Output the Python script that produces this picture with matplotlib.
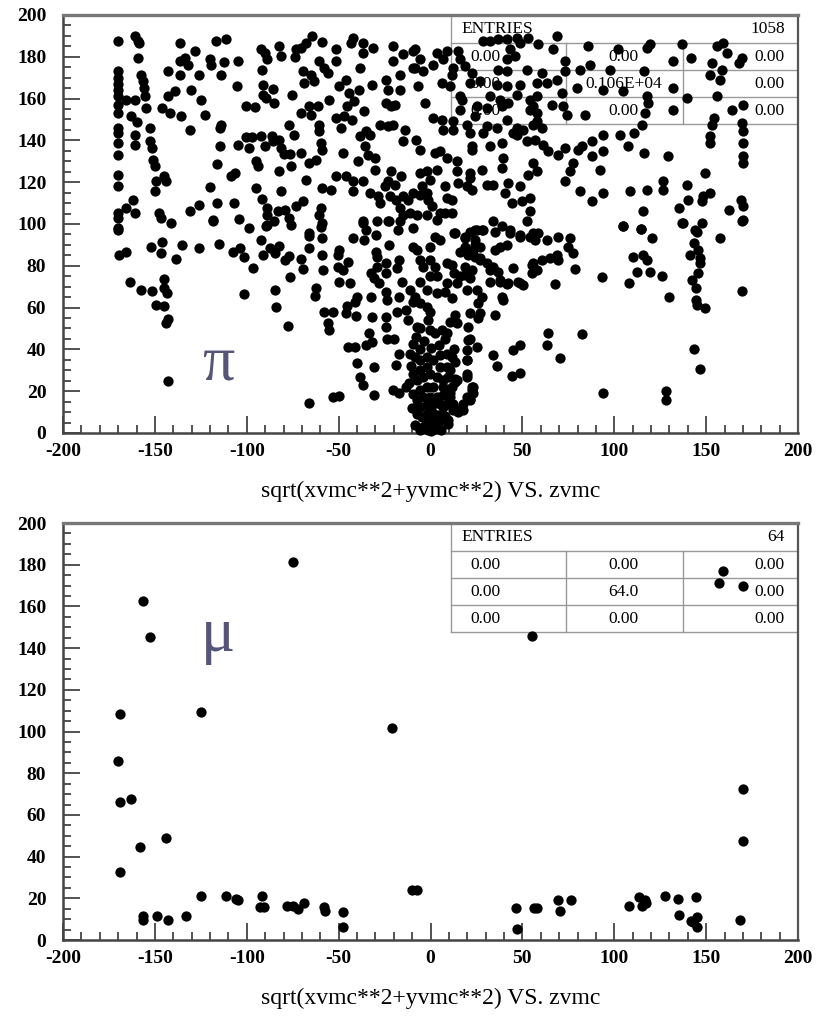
import matplotlib
matplotlib.use("Agg")
import matplotlib.pyplot as plt
import numpy as np


# pi sample: (zvmc, sqrt(xvmc**2+yvmc**2)), by region
pi_upper_left = [
    (-170, 187.5), (-170, 173), (-170, 170), (-170, 167), (-170, 164.3), (-170, 161), (-170, 157),
    (-170, 153), (-170, 146), (-170, 143.5), (-170, 138.7), (-170, 133), (-170, 123.6), (-170, 118.3),
    (-170, 105.2), (-170, 102.8), (-170, 97.2),
    (-161, 190), (-159.2, 187.5), (-158.5, 186.5), (-159.2, 179.5), (-165.5, 159.5), (-161, 159.5),
    (-162.8, 151.5), (-160, 149), (-161, 142.8), (-161, 138), (-162, 111.6), (-165.5, 107.6), (-161, 105.2),
    (-157.4, 171.5), (-156.5, 168.3), (-156, 165), (-155.6, 161), (-155, 155.5), (-152.8, 146),
    (-152.5, 139.6), (-151.4, 136.4), (-151, 130.8), (-150, 127.6), (-149.6, 120.4), (-150, 115.6),
    (-145, 122.8), (-144, 120.4), (-147.8, 105.2), (-146.7, 102.8), (-141, 100.4),
    (-146, 155.5), (-142, 153.1), (-142.9, 161.1), (-139.2, 163.5), (-142.9, 173.1),
    (-136.5, 186.7), (-136.5, 177.9), (-136.5, 171.5), (-133.8, 179.5), (-132, 176.3), (-128.4, 182.7),
    (-126.2, 171.5), (-130.1, 164.3), (-124.7, 159.5), (-122.9, 152.3), (-135.6, 151.5), (-130.7, 145.1),
    (-120.2, 178.7), (-119.3, 176.3), (-116.6, 187.5), (-111.1, 188.6), (-112.6, 177.4), (-113.8, 171.5),
    (-104.8, 177.9), (-105.3, 165.9),
    (-114.7, 146), (-113.8, 147.5), (-114.7, 137.2), (-116.2, 128.7), (-108.4, 122.8), (-106.6, 124.4),
    (-119.8, 117.6), (-126, 109.2), (-130.7, 106), (-116.4, 110), (-118.4, 101.7), (-107.1, 110),
    (-104.2, 102.3), (-98.8, 98.3),
    (-100.6, 156.3), (-95.7, 156), (-100.2, 141.6), (-97, 141.6), (-98.8, 136.4), (-104.8, 137.6),
    (-92.1, 183.8), (-90.3, 181.9), (-88.8, 178.7), (-91.7, 173.9), (-91.3, 166.7), (-91.3, 161.9),
    (-89.5, 160.3), (-85.9, 164.7), (-85, 157.9), (-92, 142.3), (-90.1, 137.2), (-86.1, 142.3),
    (-85.7, 139.6), (-82.4, 140.4), (-81.5, 136.4), (-79.7, 133.6), (-76.5, 133.6), (-76.1, 127.6),
    (-94.8, 130), (-93.8, 127.6), (-82.4, 125.2), (-81.5, 115.6), (-94.9, 117.2), (-91.7, 111.9),
    (-89, 107.6), (-89, 104.4), (-89, 99.6), (-85, 101.2), (-83.2, 106), (-79, 106.8), (-76.8, 102.8),
    (-76, 99.6), (-73.3, 108.4), (-69.6, 110.8),
    (-82.4, 185.1), (-81.5, 180.3), (-75.2, 161.9), (-77, 147.5), (-74.3, 142.8), (-73.3, 183.5),
    (-73.7, 180), (-70.6, 184.3), (-67.9, 186.7), (-64.3, 189.9), (-58.9, 187), (-69.6, 173.1),
    (-68.7, 167.5), (-65.1, 171.5), (-63.3, 168.3), (-70.6, 153.1), (-66.4, 156.3), (-65.1, 152.3),
    (-61.5, 156.3), (-60.6, 147.5), (-60.6, 144.3), (-59.7, 138.7), (-58.8, 135.6), (-62.4, 130.8),
    (-66, 129.2), (-70.6, 134), (-67.6, 121.2),
    (-60.6, 177.9), (-57.9, 174.7), (-56, 172.3), (-55.1, 159.5), (-51.5, 183.5), (-51.5, 177.9),
    (-49.7, 165.9), (-51.5, 150.7), (-48.8, 146), (-47.9, 134), (-51.5, 122.8), (-58.8, 117.2),
    (-54.2, 116.4), (-59.7, 107.6), (-60.6, 104.4), (-58.8, 100.4), (-66, 95.6),
    (-46.1, 169.1), (-44.3, 162.7), (-45.2, 156.3), (-47, 151.5), (-42.9, 149.9), (-41.6, 158.7),
    (-38.9, 164.3), (-36.2, 153.9), (-43.1, 186.7), (-42.2, 189.1), (-36.7, 186.7), (-36.7, 181.9),
    (-38.5, 174.7), (-31.3, 184.3), (-31.7, 166.7), (-38.5, 142), (-34.9, 144.3), (-33.1, 142.8),
    (-35.8, 137.2), (-34, 133.2), (-30.4, 131.6), (-30.4, 126), (-39.4, 130), (-45.8, 122.8),
    (-42.2, 120.4), (-42.2, 115.6), (-36.7, 120.4), (-33.1, 114.8), (-28.5, 113.2), (-27.6, 110),
    (-29.4, 101.2), (-36.7, 101.2), (-34.9, 97.2),
    (-27.6, 147.5), (-24, 169.1), (-23.1, 164.3), (-24, 157.9), (-21.3, 156.3), (-19.5, 157.1),
    (-20.4, 185.1), (-20.4, 177.9), (-16.8, 171.5), (-16.8, 164.3), (-15, 181.1), (-9.6, 182.7),
    (-8.7, 174.7), (-23.1, 146.8), (-20.4, 147.5), (-14.1, 145.1), (-15, 139.6), (-7.8, 140.4),
    (-21.3, 125.2), (-23.1, 120.4), (-19.5, 118.8), (-15.9, 122.8), (-24.9, 118), (-22.2, 113.2),
    (-18.6, 111.6), (-15, 113.2), (-12.3, 111.6), (-9.6, 114.8), (-16.8, 107.6), (-15, 104.4),
    (-11.4, 105.2), (-16.8, 101.2), (-23.1, 101.2), (-17.7, 97.2),
]

pi_lower_left = [
    (-170, 98), (-169.5, 85.2), (-165.8, 86.8), (-163.6, 72), (-157.8, 68.4), (-151.9, 89.2),
    (-151.4, 68.1), (-149.2, 61.2), (-145.9, 91.6), (-146.5, 86), (-145.2, 73.5), (-145.2, 69.2),
    (-143.4, 67.1), (-145.2, 60.8), (-142.8, 54.4), (-144.1, 52.4), (-142.8, 24.9),
    (-138.3, 83.1), (-135.1, 90), (-126, 88.4), (-118.4, 101.2), (-115.3, 90.3), (-107.5, 86.8),
    (-103.5, 88.4), (-101.7, 84.1), (-96.6, 79.1), (-101.3, 66.5), (-92.1, 92.4), (-91.2, 85.2),
    (-89.5, 99.1), (-87.6, 88.4), (-84.9, 86), (-82.6, 89.5), (-84.9, 68.4), (-84, 60.1), (-79, 82.8),
    (-77.2, 84.7), (-76.5, 74.5), (-77.8, 51.2), (-70.6, 83.1), (-69.3, 78.3), (-66, 94.3),
    (-66, 88.4), (-62.4, 69.2), (-62.8, 65.5), (-66, 14.4),
    (-59.7, 98.5), (-59.2, 93.2), (-59.2, 85.2), (-58.4, 78), (-57.9, 58), (-56, 52.4), (-55.1, 49.2),
    (-53.3, 58), (-53.3, 17.3), (-50, 17.6), (-50.6, 85.2), (-49.7, 87.6), (-50.6, 79.6), (-47.9, 78),
    (-49.7, 72), (-45.2, 60.8), (-46.1, 57.2), (-44.7, 41.2), (-41.1, 41.2), (-44.7, 82), (-44, 71.6),
    (-42.4, 93.2), (-41.1, 62.8), (-40.6, 56), (-39.8, 65.2), (-40.2, 33.3), (-38.4, 26.9), (-37, 22.9),
    (-37, 100.4), (-36.2, 92.4), (-32.5, 76.7), (-30.7, 74), (-28.9, 79.6), (-32.5, 65.2), (-31.6, 55.6),
    (-33.4, 47.6), (-31.6, 43.6), (-35.3, 42), (-30.7, 31.7), (-30.7, 18.1), (-29.8, 94.8),
    (-29.8, 86.8), (-28.9, 84.4),
    (-24.4, 81.5), (-24.4, 76.4), (-28, 71.6), (-24.4, 67.6), (-23.5, 63.6), (-24.4, 55.6),
    (-24.4, 50.8), (-23.5, 45.2), (-19.8, 45.2), (-22.6, 90), (-22.6, 101.2), (-17.1, 82.8), (-18, 78.8),
    (-18, 58), (-17.1, 65.2), (-17.1, 38), (-18.9, 32.5), (-20.7, 20.5), (-17.1, 18.9), (-13.4, 22.1),
    (-15.3, 72.4), (-13.4, 58.8), (-12.5, 54), (-9.8, 98), (-9.8, 89.2), (-9.8, 62.8),
]

pi_upper_right = [
    (-8.4, 183.5), (-9.3, 174.7), (-6.6, 165.9), (-4, 173.1), (-5.7, 178.7), (-2.8, 157.9), (1.5, 150.7),
    (6.1, 149.9), (7, 145.1), (12.4, 149.1), (12.4, 145.1), (3.4, 181.9), (8.8, 182.7), (7, 178.7),
    (1.5, 176.3), (6.1, 167.5), (10.6, 165.9), (11.5, 171.5), (12.4, 174.7), (15.1, 182.7), (16.1, 178.7),
    (18.8, 175.5), (22.4, 172.3), (21.5, 167.5), (26.9, 168.3), (16.1, 161.1), (17, 159.5),
    (28.8, 187.5), (32.4, 187.5), (36.9, 188.3), (41.4, 188.3), (46.9, 189.1), (48.7, 186.7),
    (43.3, 183.5), (46, 180.3), (41.4, 178.7), (36.9, 173.9), (41.4, 173.1), (36, 166.7), (41.4, 165.9),
    (48.7, 166.7), (46.9, 161.9), (42.3, 157.9), (37.8, 159.5), (32.4, 161.1), (30.6, 155.5),
    (53.2, 189.1), (58.7, 185.9), (68.7, 189.9), (66.9, 183.5), (52.3, 173.9), (60.5, 172.3),
    (57.8, 167.5), (63.2, 167.5), (68.7, 169.1), (71.4, 162.7), (73.2, 177.9), (73.2, 173.1),
    (81.4, 173.9), (86.8, 176.3), (85.9, 185.1), (97.7, 173.9), (102.2, 183.5), (105, 163.5),
    (94.1, 164.3), (79.6, 165.1),
    (57.8, 161.1), (56, 156.3), (57.8, 153.1), (65.9, 157.1), (72.3, 156.3), (74.1, 152.3), (84.1, 152.3),
    (57.8, 149.1), (60.5, 145.9), (56.9, 140.4), (61.4, 138), (64.1, 134.8), (69.6, 133.2), (73.2, 136.4),
    (77.7, 129.2), (75.9, 125.2), (80.5, 135.6), (82.3, 137.2), (87.7, 139.6), (94.1, 142.8),
    (103.2, 142.8), (110.5, 143.6), (115, 147.5), (116.8, 153.1), (118.6, 157.9), (117.7, 161.1),
    (116, 173.1), (119.5, 185.9), (117.7, 184.3), (107.7, 137.2), (115.9, 134), (87.7, 132.4),
    (94.1, 134.8), (92.3, 125.6), (129.4, 132.4),
    (73.2, 120.4), (81.4, 115.6), (87.7, 110.8), (94.1, 114.8), (108.6, 115.6), (118, 116.4),
    (126.7, 120.4), (126.7, 116.4), (139.4, 118.8), (149.4, 124.4), (147.6, 110.8), (148.5, 113.2),
    (152.1, 114.8), (140.3, 111.6), (135.4, 107.6), (137.3, 100.7), (144, 97.2), (115.8, 106),
    (105, 98.8), (114.4, 97.5),
    (132.2, 165.1), (131.8, 154.7), (139.4, 160.3), (136.7, 185.9), (141.6, 179.5), (132.2, 177.9),
    (152.1, 171.5), (153, 177.1), (155.7, 185.1), (159.4, 186.7), (161.2, 181.9), (158.5, 173.9),
    (157.5, 169.1), (155.7, 161.1), (164, 154.7), (167.6, 177.1), (169.4, 179.5), (169.9, 157.1),
    (154, 150.7), (153, 147.5), (152.1, 142), (152.1, 138.8), (169.4, 148.3), (169.9, 144.3),
    (169.9, 138.8), (169.9, 132.4), (169.9, 129.2), (169, 111.6), (169.9, 108.4), (169.9, 102),
    (162.6, 106.5),
    (19.7, 147.5), (21.5, 143.5), (28.7, 143.5), (30.6, 146.7), (36, 146), (41.4, 149.9), (45.1, 143.5),
    (47, 146), (50.5, 145.1), (56, 147.5), (54.2, 154.7), (54.2, 159.5), (24.2, 151.5), (25.1, 156.3),
    (16, 154.7), (22.4, 137.1), (32.4, 137.1), (38.7, 138.7), (47, 142.7), (52.3, 139.5), (38.7, 156.3),
]

pi_centre = [
    (-5.7, 135.6), (2.4, 134), (5.2, 134.8), (8.8, 131.6), (14.2, 130), (22.4, 135.6), (39.7, 131.6),
    (38.8, 126.8), (56, 129.2), (57.8, 125.2), (53.3, 123.6),
    (-5.7, 124.4), (-2.1, 125.2), (-0.3, 121.2), (-4.8, 118), (-5.7, 114), (-2.1, 114.8), (-1.2, 111.6),
    (3.4, 126), (7.9, 118), (8.8, 112.4), (11.5, 111.6), (14.2, 125.2), (15.1, 119.6), (19.7, 118),
    (21.5, 124.4), (21.5, 122), (22.4, 116.4), (27.8, 126), (30.6, 118.8), (34.2, 118.8), (42.3, 119.6),
    (48.7, 118), (40.6, 114.8), (44.2, 110), (49.6, 110.8), (54.1, 112.4), (54.1, 106),
    (0.6, 108.4), (-2.1, 104.4), (-7.5, 104.4), (3.4, 102), (5.2, 105.2), (7.9, 105.2), (11.5, 105.2),
    (12.7, 95.6), (2.4, 94), (-0.3, 89.2), (5.2, 92.4), (18.8, 94), (18.8, 89.2), (21.5, 96.4),
    (24.2, 92.4), (23.3, 87.6), (25.1, 97.2), (28.7, 97.2), (34.2, 101.2), (35.1, 96.4), (38.8, 98.8),
    (37.9, 89.2), (43.3, 97.2), (48.7, 94), (52.3, 101.2), (54.1, 94), (24.2, 84.4), (27, 82.8),
    (30.6, 81.2), (34.2, 79.6), (45.1, 78.8), (37.9, 73.2), (42.3, 71.6), (48.7, 71.6), (56, 81.2),
    (-7.5, 87.6), (-5.7, 82.8), (-3.9, 79.6), (-0.3, 82.8), (2.4, 79.6), (3.4, 74.9), (8.8, 81.2),
    (11.5, 80.4), (12.7, 76.4), (8.8, 71.6), (14.2, 71.6), (15.8, 74.9), (19.7, 68.4), (-5.7, 72.4),
    (-2.1, 68.4), (-0.3, 74.9),
]

pi_core = [
    (-11.2, 68.4), (-8.4, 65.2), (-5.7, 62), (-2.1, 60.4), (-0.3, 58), (-1.2, 54), (-7.5, 50.8),
    (-5.7, 50), (-0.3, 49.2), (2.4, 47.6), (6.1, 49.2), (8.8, 47.6), (10.6, 53.2), (13.3, 56.4),
    (14.2, 52.4), (7.9, 45.2), (3.4, 66.8), (7.9, 67.6), (11.5, 64.4),
    (-9.3, 42.8), (-5.7, 40.4), (-11.2, 38), (-8.4, 36.4), (-5.7, 34.8), (-2.1, 36.4), (1.5, 34.8),
    (5.2, 37.2), (8.8, 38), (11.5, 36.4), (13.3, 34), (8.8, 31.6), (5.2, 31.6), (-2.1, 31.6), (-5.7, 30),
    (-9.3, 28.4), (-7.5, 25.2), (-3.9, 26.8), (-0.3, 28.4), (3.4, 26.8), (7, 25.2), (9.7, 26.8),
    (13.3, 26), (11.5, 22), (7, 22), (1.5, 22), (-2.1, 22), (-5.7, 20.4), (-9.3, 18.8), (-7.5, 15.6),
    (-3.9, 17.2), (-0.3, 17.2), (3.4, 17.2), (7, 18), (10.6, 17.2), (12.3, 14), (8.8, 14), (5.2, 14),
    (1.5, 14), (-2.1, 13.2), (-5.7, 12.4), (-7.5, 9.2), (-4.8, 7.6), (-2.1, 9.2), (0.6, 10), (3.4, 8.4),
    (6.1, 9.2), (9.7, 4.4), (5.2, 6), (1.5, 6), (-2.1, 5.2), (-3.9, 2.8), (-0.3, 2.8), (2.4, 2),
    (-1.2, 1.3), (4.3, 4.4),
    (15.1, 10.8), (17.9, 14), (19.7, 17.2), (22.4, 20.4), (23.3, 22), (21.5, 16.4), (12.4, 10.8),
    (19.7, 34.8), (19.7, 39.6), (20.6, 44.4), (19.7, 28.4), (14.2, 25.2),
    (-10.5, 32), (-11.5, 24), (-10, 12), (-8.5, 4), (-6, 1.5), (0.5, 0.8), (5.5, 1.5), (8, 8),
    (10.5, 30), (12.5, 40), (-8, 46), (4.5, 42), (0, 40.5), (-3.5, 44),
]

pi_lower_right = [
    (13.3, 95.6), (18.8, 93.2), (24.2, 97.2), (27.8, 97.2), (24.2, 90), (27, 89.2), (16.1, 86.8),
    (20.6, 85.2), (18.8, 79.6), (18.8, 75.6), (21.5, 74), (22.4, 78), (27, 83.6), (32.4, 78), (36.9, 77.2),
    (37.8, 72.4), (32.4, 72.4), (35.1, 87.6), (41.4, 90), (43.3, 95.6), (48.7, 94.8), (56, 95.6),
    (56.9, 92.4), (58.7, 95.6), (63.2, 92.4), (69.6, 94), (76, 93.2), (75, 89.2), (77.8, 86), (68.7, 85.2),
    (65, 83.6), (60.5, 82.8), (55.1, 80.4), (57.8, 78), (55.1, 76.4), (78.7, 78.3), (69.6, 82.8),
    (67.8, 71.3), (47.8, 72.4), (50.5, 70.8), (41.4, 71.3), (25.1, 68.4), (27.8, 65.2), (38.7, 65.2),
    (39.6, 63.6), (26.1, 62), (35.1, 56.4), (26, 54.8), (26.9, 57.2), (21.5, 57.2), (20.6, 50.8),
    (21.5, 45.2), (25.1, 41.2), (19.7, 34.9), (19.7, 26.9), (22.4, 22.1), (23.3, 18.9), (21.5, 15.7),
    (17.9, 10.9), (15.2, 10.1), (13.3, 24.5), (10.6, 18.9), (9.7, 6.1), (7, 12.5),
    (34.2, 37.3), (36, 32), (45.1, 39.6), (48.7, 42), (44.2, 27.2), (48.7, 28.8), (64.1, 47.6),
    (63.2, 42), (70.5, 35.7), (82.3, 47.3),
    (93.2, 74.8), (93.7, 19.3), (105, 99.1), (114.4, 97.5), (120.4, 93.2), (110.1, 84.4), (115.5, 85.2),
    (117.6, 82.8), (112.2, 77.2), (119.5, 77.2), (108.2, 71.9), (126.2, 75.3), (129.8, 65.2), (128, 20.1),
    (128, 15.7),
    (136.7, 100.4), (144.8, 96.4), (147.6, 100.4), (143.6, 90.8), (141.2, 85.2), (145.7, 87.6),
    (146.7, 83.6), (146.7, 81.2), (145.8, 76.7), (142.1, 73.2), (144.5, 69.2), (144.5, 63.6),
    (144.8, 61.2), (149.4, 60), (143.4, 40), (146.7, 30.5), (157.5, 93.5), (169.7, 101.2), (169.7, 68),
]

mu_points = [
    (-169.9, 86.0), (-169, 66.2), (-163.2, 67.8), (-158.1, 44.4), (-144.1, 49.1), (-169, 32.6),
    (-156.3, 11.7), (-156.3, 9.6), (-149, 11.7), (-142.9, 9.6), (-133.2, 11.5), (-124.9, 21.1),
    (-111.5, 21.1), (-105.9, 19.5), (-104.8, 19.2), (-91.5, 21.1), (-92.8, 15.7), (-90.4, 16),
    (-77.9, 16.3), (-74.7, 16.3), (-71.9, 14.9), (-68.8, 17.9), (-58, 15.7), (-57.4, 13.8),
    (-47.8, 13.3), (-47.5, 6.1), (-10.2, 24), (-7.5, 24),
    (-74.7, 181.3), (-156.3, 162.7), (-152.7, 145.3), (-169, 108.2), (-124.9, 109.4), (-20.8, 101.5),
    (55.1, 145.9), (159.4, 176.8), (157.2, 171.4), (169.9, 169.9),
    (169.9, 72.4), (169.9, 47.6), (46.5, 15.5), (46.9, 5.3), (56.3, 15.2), (58.1, 15.2), (69.4, 19.2),
    (70.6, 14.1), (76.3, 19.2), (108.2, 16.5), (113.3, 20.8), (115.3, 16.5), (116.6, 19.2),
    (117.3, 17.6), (127.5, 21.3), (134.7, 19.5), (135.1, 12.1), (141.6, 9.1), (142.7, 8.5),
    (145.2, 11.2), (144.9, 6.1), (144.5, 20.8), (168.4, 9.6),
]

pi_stats = ["1058", ["0.00", "0.00", "0.00"], ["0.00", "0.106E+04", "0.00"], ["0.00", "0.00", "0.00"]]
mu_stats = ["64", ["0.00", "0.00", "0.00"], ["0.00", "64.0", "0.00"], ["0.00", "0.00", "0.00"]]

XLABEL = "sqrt(xvmc**2+yvmc**2) VS. zvmc"
SERIF = ["Liberation Serif", "DejaVu Serif"]

plt.rcParams["axes.unicode_minus"] = False


def style_axes(ax):
    ax.set_xlim(-200, 200)
    ax.set_ylim(0, 200)
    ax.set_xticks(np.arange(-200, 201, 50))
    ax.set_xticks(np.arange(-200, 201, 10), minor=True)
    ax.set_yticks(np.arange(0, 201, 20))
    ax.set_yticks(np.arange(0, 201, 5), minor=True)
    ax.tick_params(which="both", direction="in", color="#444444", width=1.3,
                   top=False, right=False)
    ax.tick_params(which="major", length=12)
    ax.tick_params(which="minor", length=6)
    ax.tick_params(axis="x", which="major", pad=7)
    ax.tick_params(axis="y", which="major", pad=12)
    for lab in ax.get_xticklabels() + ax.get_yticklabels():
        lab.set_fontfamily(SERIF)
        lab.set_fontweight("bold")
        lab.set_fontsize(14)
    for side in ["left", "bottom"]:
        ax.spines[side].set_color("#444444")
        ax.spines[side].set_linewidth(1.8)
    ax.spines["top"].set_color("#777777")
    ax.spines["top"].set_linewidth(2.4)
    ax.spines["right"].set_color("#555555")
    ax.spines["right"].set_linewidth(1.6)
    ax.set_xlabel(XLABEL, fontfamily=SERIF, fontsize=17, labelpad=15)


def draw_stats(ax, stats):
    x0, c1, c2 = 0.528, 0.684, 0.8435
    rows = [1.0, 0.933, 0.868, 0.803, 0.739]
    kw = dict(transform=ax.transAxes, color="#999999", lw=1.0, zorder=1)
    ax.plot([x0, x0], [rows[0], rows[-1]], **kw)
    for r in rows[1:]:
        ax.plot([x0, 1.0], [r, r], **kw)
    for c in (c1, c2):
        ax.plot([c, c], [rows[1], rows[-1]], **kw)
    tkw = dict(transform=ax.transAxes, fontfamily=SERIF, fontsize=12.5, va="center", zorder=1)
    mid = (rows[0] + rows[1]) / 2
    ax.text(0.5415, mid, "ENTRIES", ha="left", **tkw)
    ax.text(0.982, mid, stats[0], ha="right", **tkw)
    for i, vals in enumerate(stats[1:]):
        yc = (rows[i + 1] + rows[i + 2]) / 2
        ax.text(0.554, yc, vals[0], ha="left", **tkw)
        ax.text(0.763, yc, vals[1], ha="center", **tkw)
        ax.text(0.982, yc, vals[2], ha="right", **tkw)


def main():
    pi_all = np.array(pi_upper_left + pi_lower_left + pi_upper_right
                      + pi_centre + pi_core + pi_lower_right)
    mu_all = np.array(mu_points)

    fig = plt.figure(figsize=(8.24, 10.19), dpi=100)
    ax_pi = fig.add_axes([0.0765, 0.5751, 0.892, 0.4102])
    ax_mu = fig.add_axes([0.0765, 0.0775, 0.892, 0.4092])

    for ax, pts, stats, sym, sym_y in [
        (ax_pi, pi_all, pi_stats, "\u03c0", 33),
        (ax_mu, mu_all, mu_stats, "\u03bc", 146),
    ]:
        draw_stats(ax, stats)
        ax.plot(pts[:, 0], pts[:, 1], "o", color="black", markersize=7.4,
                markeredgewidth=0, zorder=3, clip_on=False)
        ax.text(-115.5, sym_y, sym, fontfamily=SERIF, fontsize=46, color="#555577",
                ha="center", va="center", zorder=4)
        style_axes(ax)

    fig.savefig("out.png", dpi=100)
    plt.close(fig)


if __name__ == "__main__":
    main()
